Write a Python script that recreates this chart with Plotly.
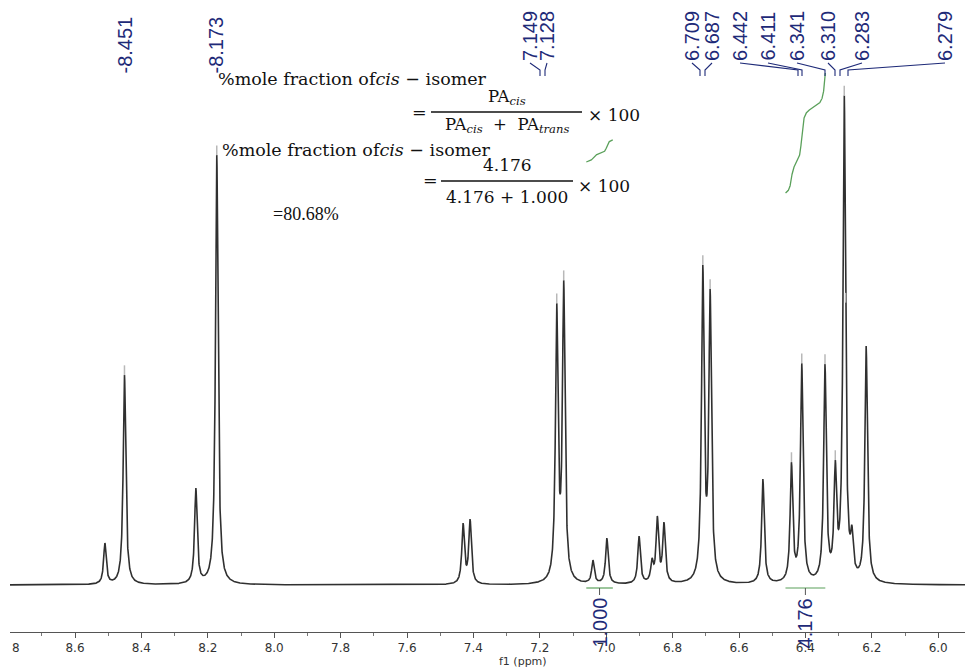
import numpy as np
import plotly.graph_objects as go

# ---------------- data ----------------
peak_ppm = [8.510, 8.451, 8.236, 8.173, 7.431, 7.410, 7.149, 7.128,
            7.040, 6.998, 6.901, 6.862, 6.846, 6.826, 6.709, 6.687,
            6.528, 6.442, 6.411, 6.341, 6.310, 6.283, 6.260, 6.217]
peak_height = [42, 210, 97, 430, 62, 66, 282, 305,
               25, 47, 49, 27, 69, 63, 320, 296,
               106, 123, 222, 221, 125, 490, 60, 239]

label_values = ["8.451", "8.173", "7.149", "7.128", "6.709", "6.687",
                "6.442", "6.411", "6.341", "6.310", "6.283", "6.279"]

integral_values = ["1.000", "4.176"]
integral_from = [7.06, 6.46]
integral_to = [6.98, 6.34]

x_tick_vals = [8.6, 8.4, 8.2, 8.0, 7.8, 7.6, 7.4, 7.2, 7.0, 6.8, 6.6, 6.4, 6.2, 6.0]

# ---------------- layout (pixel positions) ----------------
label_px = [125, 216, 530, 547, 692, 712, 740, 768, 797, 828, 862, 945]
leader_end_px = [None, None, 540, 545, 700, 705, 798, 802, 825, 835, 840, 848]

W, H = 965, 669
PLOT_L = 10
PLOT_H = 632
PPM_PER_PX = 1 / 332.0
X_LEFT = 8.6 + (75 - PLOT_L) * PPM_PER_PX
X_RIGHT = 8.6 - (W - 75) * PPM_PER_PX
Y_BOT = -(PLOT_H - 585)
Y_TOP = 585


def px(x):
    return (x - PLOT_L) / (W - PLOT_L)


def py(y):
    return 1 - y / PLOT_H


LW = 0.0092


def lor(x, x0, w=LW):
    return 1.0 / (1.0 + ((x - x0) / (w / 2)) ** 2)


P = np.array(peak_ppm)
Hh = np.array(peak_height, dtype=float)
M = lor(P[:, None], P[None, :])
amps = np.linalg.solve(M, Hh)

ppm = np.linspace(X_LEFT, X_RIGHT, 8000)
spec = np.zeros_like(ppm)
for a, p0 in zip(amps, P):
    spec += a * lor(ppm, p0)

fig = go.Figure()
fig.add_trace(go.Scatter(x=ppm, y=spec, mode="lines",
                         line=dict(color="#303030", width=1.6),
                         hoverinfo="skip", showlegend=False))

# peak-pick marks at the tops of the labelled peaks
lab_ppm = [float(v) for v in label_values]
lab_top = [float(np.interp(-v, -ppm, spec)) + 5 for v in lab_ppm]
fig.add_trace(go.Scatter(x=lab_ppm, y=lab_top, mode="markers",
                         marker=dict(symbol="line-ns", size=7,
                                     line=dict(color="#b8b8b8", width=1.5)),
                         hoverinfo="skip", showlegend=False))

# integral curves
int_style = [dict(y0=423, rise=22), dict(y0=392, rise=120)]
green = "#5aa05a"
for a, b, st in zip(integral_from, integral_to, int_style):
    m = (ppm <= a) & (ppm >= b)
    xs = ppm[m]
    cs = np.cumsum(spec[m])
    cs = (cs - cs[0]) / (cs[-1] - cs[0])
    fig.add_trace(go.Scatter(x=xs, y=st["y0"] + cs * st["rise"], mode="lines",
                             line=dict(color=green, width=1.3),
                             hoverinfo="skip", showlegend=False))

shapes = []
annotations = []
navy = "#1e2a78"
label_font = dict(family="Liberation Sans Narrow, Liberation Sans, sans-serif",
                  size=20, color=navy)

# integral bars and labels
for a, b, v in zip(integral_from, integral_to, integral_values):
    c = (a + b) / 2
    shapes.append(dict(type="line", xref="x", yref="paper", x0=a, x1=b,
                       y0=py(588), y1=py(588), line=dict(color=green, width=1.2)))
    shapes.append(dict(type="line", xref="x", yref="paper", x0=c, x1=c,
                       y0=py(588), y1=py(595), line=dict(color="#555", width=1)))
    annotations.append(dict(xref="x", yref="paper", x=c, y=py(596), text=v,
                            textangle=-90, showarrow=False, yanchor="top",
                            xanchor="center", font=label_font))

# peak labels at top with leader lines
for v, lx, ex in zip(label_values, label_px, leader_end_px):
    if ex is None:
        annotations.append(dict(xref="paper", yref="paper", x=px(lx), y=py(76),
                                text="-" + v, textangle=-90, showarrow=False,
                                yanchor="bottom", xanchor="center", font=label_font))
    else:
        annotations.append(dict(xref="paper", yref="paper", x=px(lx), y=py(63),
                                text=v, textangle=-90, showarrow=False,
                                yanchor="bottom", xanchor="center", font=label_font))
        shapes.append(dict(type="path", xref="paper", yref="paper",
                           path=f"M {px(lx)},{py(63)} L {px(ex)},{py(70)} L {px(ex)},{py(76)}",
                           line=dict(color=navy, width=1.1)))

# formula text
serif = "DejaVu Serif, Liberation Serif, serif"
fcol = "#111"


def txt(x, y, t, size=17.5, xa="left", fam=serif):
    annotations.append(dict(xref="paper", yref="paper", x=px(x), y=py(y), text=t,
                            showarrow=False, xanchor=xa, yanchor="middle",
                            font=dict(family=fam, size=size, color=fcol)))


txt(216, 79, "%mole fraction of<i>cis</i> − isomer")
txt(507, 97, "PA<sub><i>cis</i></sub>", xa="center", size=16.5)
txt(410, 112, "=")
txt(507, 126, "PA<sub><i>cis</i></sub>  +  PA<sub><i>trans</i></sub>", xa="center", size=16.5)
txt(586, 115, "× 100", size=17)
shapes.append(dict(type="line", xref="paper", yref="paper", x0=px(431), x1=px(582),
                   y0=py(112), y1=py(112), line=dict(color=fcol, width=1.5)))

txt(220, 150, "%mole fraction of<i>cis</i> − isomer")
txt(507, 165, "4.176", xa="center", size=17)
txt(421, 180, "=")
txt(507, 197, "4.176 + 1.000", xa="center", size=17)
txt(576, 186, "× 100", size=17)
shapes.append(dict(type="line", xref="paper", yref="paper", x0=px(441), x1=px(573),
                   y0=py(181), y1=py(181), line=dict(color=fcol, width=1.5)))

txt(271, 214, "=80.68%", size=18, fam="Liberation Serif, serif")

# axis title and clipped first tick label
tick_font = dict(family="DejaVu Sans, Verdana, sans-serif", size=12, color="#333")
annotations.append(dict(xref="paper", yref="paper", x=px(523), y=py(661), text="f1 (ppm)",
                        showarrow=False, xanchor="center", yanchor="middle",
                        font=dict(family="DejaVu Sans, Verdana, sans-serif", size=11, color="#333")))
annotations.append(dict(xref="paper", yref="paper", x=px(10), y=py(648), text="8",
                        showarrow=False, xanchor="left", yanchor="middle", font=tick_font))

fig.update_layout(
    width=W, height=H,
    margin=dict(l=PLOT_L, r=0, t=0, b=H - PLOT_H),
    paper_bgcolor="white", plot_bgcolor="white",
    shapes=shapes, annotations=annotations,
    xaxis=dict(range=[X_LEFT, X_RIGHT], showgrid=False, zeroline=False,
               showline=True, linecolor="#555", linewidth=1,
               ticks="outside", ticklen=5, tickcolor="#555",
               tickvals=x_tick_vals, ticktext=[f"{t:.1f}" for t in x_tick_vals],
               tickfont=tick_font,
               minor=dict(dtick=0.1, ticks="outside", ticklen=3, tickcolor="#777"),
               fixedrange=True),
    yaxis=dict(range=[Y_BOT, Y_TOP], visible=False, fixedrange=True),
)

fig.write_html("out.html")
